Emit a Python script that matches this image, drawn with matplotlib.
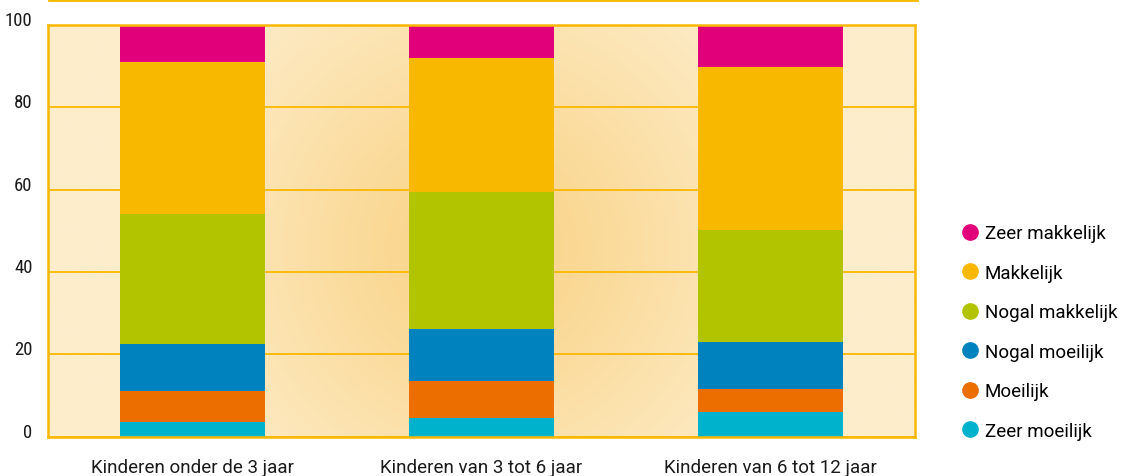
import matplotlib
matplotlib.use("Agg")
import matplotlib.pyplot as plt
import numpy as np
from matplotlib.lines import Line2D
from matplotlib.colors import to_rgb

plt.rcParams['font.family'] = ['Roboto', 'DejaVu Sans']

# data (percentages, bottom to top)
categories = ["Kinderen onder de 3 jaar", "Kinderen van 3 tot 6 jaar", "Kinderen van 6 tot 12 jaar"]
series = ["Zeer moeilijk", "Moeilijk", "Nogal moeilijk", "Nogal makkelijk", "Makkelijk", "Zeer makkelijk"]
zeer_moeilijk = [3.6, 4.6, 6.0]
moeilijk = [7.6, 9.0, 5.6]
nogal_moeilijk = [11.4, 12.5, 11.5]
nogal_makkelijk = [31.5, 33.4, 27.1]
makkelijk = [36.8, 32.5, 39.6]
zeer_makkelijk = [9.1, 8.0, 10.2]
yticks = [0, 20, 40, 60, 80, 100]

values = [zeer_moeilijk, moeilijk, nogal_moeilijk, nogal_makkelijk, makkelijk, zeer_makkelijk]
colors = ["#00B2CC", "#EC6E00", "#0082BE", "#B2C300", "#F9B800", "#E2007A"]
orange = "#F9B800"

fig = plt.figure(figsize=(11.22, 4.77), dpi=100)
ax = fig.add_axes([48/1122, 1-437.7/477, (915-48)/1122, (437.7-26)/477])

# background glow behind the middle bar
W, H = 600, 300
xs = np.linspace(-0.5, 2.5, W)
ys = np.linspace(0, 100, H)
X, Y = np.meshgrid(xs, ys)
px_x = 867/3
px_y = 411.7/100
d = np.hypot((X-1)*px_x, (Y-46)*px_y) / 340
t = np.clip(d, 0, 1) ** 1.1
inner = np.array(to_rgb("#FAD283"))
outer = np.array(to_rgb("#FDEDCB"))
img = inner[None, None, :]*(1-t[..., None]) + outer[None, None, :]*t[..., None]
ax.imshow(img, extent=(-0.5, 2.5, 0, 100), origin='lower', aspect='auto', zorder=0)

x = np.arange(len(categories))
bottom = np.zeros(len(categories))
for name, vals, c in zip(series, values, colors):
    ax.bar(x, vals, width=0.5, bottom=bottom, color=c, label=name, zorder=2)
    bottom += np.array(vals)

ax.set_xlim(-0.5, 2.5)
ax.set_ylim(0, 100)
ax.set_yticks(yticks)
ax.set_xticks(x)
ax.set_xticklabels(categories)
ax.yaxis.grid(True, color=orange, lw=1.3)
ax.set_axisbelow(True)
ax.tick_params(length=0, labelsize=13.5, colors="#1a1a1a")
ax.tick_params(axis='y', pad=11)
ax.tick_params(axis='x', pad=15)
for lab in ax.get_yticklabels():
    lab.set_verticalalignment('baseline')
    lab.set_family(['Roboto Condensed', 'Roboto', 'DejaVu Sans'])
for s in ax.spines.values():
    s.set_color(orange)
    s.set_linewidth(1.8)

# top rule
fig.add_artist(Line2D([49/1122, 917/1122], [1-1.2/477]*2, transform=fig.transFigure, color=orange, lw=2))

handles = [Line2D([], [], marker='o', ls='', markersize=11, color=c) for c in colors[::-1]]
fig.legend(handles, series[::-1], loc='center left', bbox_to_anchor=(953/1122, 1-333/477),
           frameon=False, fontsize=13.5, labelspacing=1.15, handlelength=0.8, handletextpad=0.4,
           borderpad=0)

fig.savefig("out.png", dpi=100)
